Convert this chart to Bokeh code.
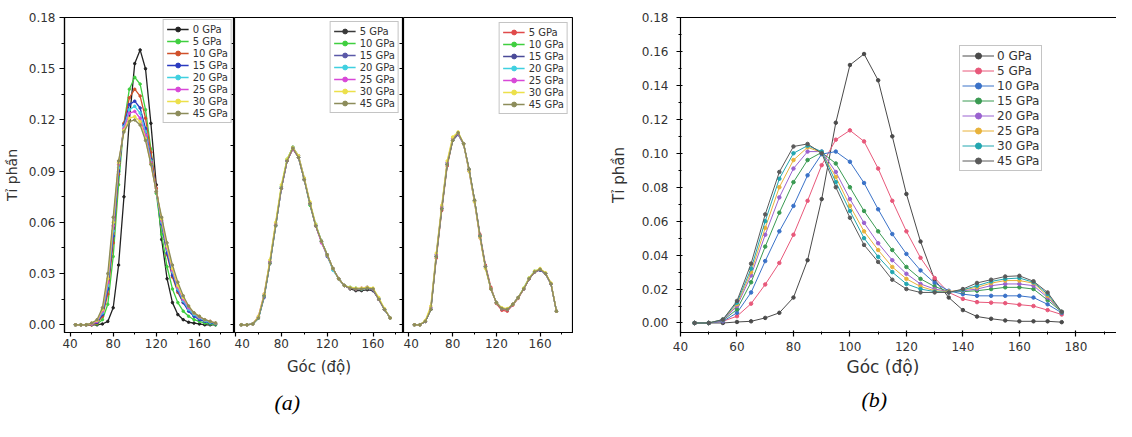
from bokeh.plotting import figure
from bokeh.models import (Range1d, LinearAxis, FixedTicker, NumeralTickFormatter,
                          Legend, LegendItem, Title)
from bokeh.layouts import row
from bokeh.embed import file_html
from bokeh.resources import INLINE

# ---------------- data ----------------
angles = [45, 50, 55, 60, 65, 70, 75, 80, 85, 90, 95, 100, 105, 110, 115, 120,
          125, 130, 135, 140, 145, 150, 155, 160, 165, 170, 175]

# panel (a), left sub-plot
a1_labels = ["0 GPa", "5 GPa", "10 GPa", "15 GPa", "20 GPa", "25 GPa", "30 GPa", "45 GPa"]
a1_0 = [0, 0, 0, 0, 0, 0.0005, 0.002, 0.010, 0.035, 0.075, 0.120, 0.153, 0.161, 0.150, 0.118, 0.082,
        0.050, 0.027, 0.013, 0.006, 0.003, 0.0015, 0.001, 0.0005, 0, 0, 0]
a1_5 = [0, 0, 0, 0, 0.0005, 0.003, 0.012, 0.040, 0.082, 0.118, 0.138, 0.145, 0.141, 0.126, 0.103, 0.077,
        0.053, 0.034, 0.021, 0.013, 0.008, 0.005, 0.003, 0.002, 0.001, 0.0005, 0]
a1_10 = [0, 0, 0, 0, 0.001, 0.005, 0.018, 0.048, 0.088, 0.118, 0.133, 0.138, 0.134, 0.121, 0.101, 0.080,
         0.059, 0.041, 0.028, 0.019, 0.013, 0.009, 0.006, 0.004, 0.0025, 0.0015, 0.001]
a1_15 = [0, 0, 0, 0.0005, 0.0015, 0.006, 0.021, 0.052, 0.090, 0.117, 0.129, 0.131, 0.127, 0.115, 0.097, 0.078,
         0.059, 0.042, 0.029, 0.020, 0.013, 0.008, 0.005, 0.003, 0.002, 0.001, 0.0005]
a1_20 = [0, 0, 0, 0.0005, 0.002, 0.007, 0.023, 0.055, 0.092, 0.116, 0.126, 0.128, 0.124, 0.113, 0.096, 0.078,
         0.060, 0.044, 0.031, 0.021, 0.014, 0.009, 0.006, 0.004, 0.0025, 0.0015, 0.001]
a1_25 = [0, 0, 0, 0.0005, 0.002, 0.008, 0.025, 0.058, 0.094, 0.115, 0.124, 0.125, 0.121, 0.111, 0.095, 0.078,
         0.061, 0.045, 0.032, 0.022, 0.015, 0.010, 0.007, 0.0045, 0.003, 0.002, 0.001]
a1_30 = [0, 0, 0, 0.001, 0.0025, 0.009, 0.027, 0.060, 0.095, 0.114, 0.121, 0.122, 0.119, 0.109, 0.094, 0.078,
         0.062, 0.046, 0.033, 0.023, 0.016, 0.011, 0.007, 0.005, 0.003, 0.002, 0.001]
a1_45 = [0, 0, 0, 0.001, 0.003, 0.010, 0.030, 0.063, 0.096, 0.113, 0.119, 0.120, 0.117, 0.108, 0.094, 0.078,
         0.063, 0.048, 0.035, 0.025, 0.017, 0.011, 0.007, 0.005, 0.003, 0.002, 0.001]

# panel (a), middle sub-plot
a2_labels = ["5 GPa", "10 GPa", "15 GPa", "20 GPa", "25 GPa", "30 GPa", "45 GPa"]
a2_5 = [0, 0, 0.0005, 0.004, 0.017, 0.036, 0.058, 0.080, 0.096, 0.103, 0.098, 0.085, 0.071, 0.058, 0.049, 0.041,
        0.033, 0.027, 0.023, 0.021, 0.020, 0.020, 0.0205, 0.020, 0.015, 0.009, 0.004]
a2_10 = [0, 0, 0.0005, 0.004, 0.017, 0.037, 0.059, 0.081, 0.097, 0.104, 0.098, 0.085, 0.070, 0.058, 0.049, 0.041,
         0.033, 0.027, 0.023, 0.0215, 0.021, 0.021, 0.0215, 0.021, 0.015, 0.009, 0.004]
a2_15 = [0, 0, 0.0005, 0.004, 0.016, 0.036, 0.058, 0.080, 0.096, 0.104, 0.099, 0.086, 0.071, 0.058, 0.049, 0.040,
         0.033, 0.027, 0.023, 0.0215, 0.021, 0.021, 0.0215, 0.0205, 0.015, 0.009, 0.004]
a2_20 = [0, 0, 0.0005, 0.004, 0.017, 0.036, 0.058, 0.080, 0.096, 0.104, 0.098, 0.085, 0.071, 0.059, 0.049, 0.041,
         0.032, 0.027, 0.023, 0.022, 0.0215, 0.021, 0.022, 0.021, 0.0155, 0.009, 0.004]
a2_25 = [0, 0, 0.0005, 0.005, 0.018, 0.037, 0.059, 0.080, 0.096, 0.103, 0.098, 0.085, 0.071, 0.058, 0.048, 0.041,
         0.033, 0.027, 0.023, 0.0215, 0.021, 0.0215, 0.022, 0.021, 0.015, 0.009, 0.004]
a2_30 = [0, 0, 0.0005, 0.005, 0.018, 0.038, 0.060, 0.082, 0.097, 0.104, 0.099, 0.086, 0.072, 0.059, 0.049, 0.041,
         0.033, 0.027, 0.023, 0.022, 0.0215, 0.0215, 0.022, 0.0215, 0.016, 0.0095, 0.004]
a2_45 = [0, 0, 0.0005, 0.004, 0.017, 0.036, 0.058, 0.080, 0.096, 0.1035, 0.098, 0.085, 0.071, 0.058, 0.049, 0.041,
         0.033, 0.027, 0.023, 0.0215, 0.021, 0.021, 0.0215, 0.021, 0.015, 0.009, 0.004]

# panel (a), right sub-plot
a3_labels = ["5 GPa", "10 GPa", "15 GPa", "20 GPa", "25 GPa", "30 GPa", "45 GPa"]
a3_5 = [0, 0, 0.002, 0.009, 0.039, 0.067, 0.093, 0.108, 0.112, 0.106, 0.091, 0.073, 0.053, 0.035, 0.022, 0.0125,
        0.0085, 0.008, 0.0115, 0.0155, 0.021, 0.027, 0.031, 0.0325, 0.030, 0.024, 0.008]
a3_10 = [0, 0, 0.002, 0.009, 0.040, 0.068, 0.094, 0.108, 0.112, 0.106, 0.091, 0.073, 0.052, 0.034, 0.021, 0.013,
         0.0095, 0.009, 0.012, 0.016, 0.021, 0.027, 0.031, 0.0325, 0.030, 0.024, 0.008]
a3_15 = [0, 0, 0.002, 0.009, 0.040, 0.068, 0.094, 0.108, 0.1115, 0.106, 0.091, 0.073, 0.052, 0.034, 0.021, 0.013,
         0.0095, 0.009, 0.012, 0.016, 0.021, 0.027, 0.031, 0.032, 0.030, 0.024, 0.008]
a3_20 = [0, 0, 0.002, 0.010, 0.041, 0.069, 0.095, 0.109, 0.112, 0.106, 0.090, 0.072, 0.052, 0.034, 0.021, 0.013,
         0.0095, 0.009, 0.012, 0.016, 0.0215, 0.0275, 0.0315, 0.0325, 0.030, 0.024, 0.008]
a3_25 = [0, 0, 0.002, 0.010, 0.041, 0.069, 0.095, 0.109, 0.112, 0.106, 0.090, 0.072, 0.051, 0.034, 0.021, 0.013,
         0.0095, 0.009, 0.012, 0.016, 0.021, 0.027, 0.031, 0.0325, 0.030, 0.024, 0.008]
a3_30 = [0, 0, 0.0025, 0.011, 0.042, 0.070, 0.096, 0.110, 0.113, 0.106, 0.090, 0.072, 0.051, 0.033, 0.021, 0.013,
         0.010, 0.0095, 0.012, 0.016, 0.0215, 0.0275, 0.0315, 0.033, 0.0305, 0.0245, 0.008]
a3_45 = [0, 0, 0.002, 0.009, 0.040, 0.068, 0.094, 0.108, 0.1125, 0.106, 0.091, 0.073, 0.052, 0.034, 0.021, 0.013,
         0.0095, 0.009, 0.012, 0.016, 0.021, 0.027, 0.031, 0.0325, 0.030, 0.024, 0.008]

# panel (b)
b_labels = ["0 GPa", "5 GPa", "10 GPa", "15 GPa", "20 GPa", "25 GPa", "30 GPa", "45 GPa"]
b_0 = [0, 0, 0, 0.0006, 0.001, 0.003, 0.006, 0.015, 0.037, 0.073, 0.118, 0.152, 0.1585, 0.143, 0.110, 0.076,
       0.048, 0.0255, 0.015, 0.0076, 0.0038, 0.0025, 0.0015, 0.001, 0.001, 0.001, 0.0005]
b_5 = [0, 0, 0.001, 0.004, 0.0114, 0.0227, 0.0354, 0.052, 0.072, 0.093, 0.108, 0.1135, 0.107, 0.091, 0.072, 0.054,
       0.0384, 0.0265, 0.018, 0.0142, 0.0123, 0.012, 0.0117, 0.0108, 0.010, 0.0076, 0.005]
b_10 = [0, 0, 0.001, 0.006, 0.018, 0.0365, 0.054, 0.069, 0.087, 0.0995, 0.101, 0.095, 0.0825, 0.067, 0.0524, 0.0407,
        0.031, 0.0236, 0.019, 0.017, 0.016, 0.016, 0.016, 0.016, 0.015, 0.011, 0.006]
b_15 = [0, 0, 0.0015, 0.008, 0.024, 0.045, 0.065, 0.083, 0.096, 0.1005, 0.094, 0.080, 0.066, 0.054, 0.043, 0.033,
        0.026, 0.0215, 0.0185, 0.0185, 0.019, 0.020, 0.021, 0.021, 0.020, 0.0135, 0.0065]
b_20 = [0, 0, 0.0015, 0.010, 0.028, 0.052, 0.074, 0.091, 0.101, 0.101, 0.089, 0.073, 0.059, 0.047, 0.037, 0.029,
        0.023, 0.020, 0.0185, 0.019, 0.020, 0.022, 0.023, 0.023, 0.022, 0.015, 0.0065]
b_25 = [0, 0, 0.002, 0.011, 0.030, 0.056, 0.080, 0.096, 0.1035, 0.1005, 0.086, 0.069, 0.054, 0.043, 0.033, 0.026,
        0.0215, 0.019, 0.0185, 0.0195, 0.021, 0.0235, 0.025, 0.025, 0.0235, 0.016, 0.0065]
b_30 = [0, 0, 0.002, 0.012, 0.032, 0.060, 0.085, 0.100, 0.1045, 0.101, 0.083, 0.066, 0.050, 0.039, 0.030, 0.023,
        0.020, 0.0185, 0.018, 0.0195, 0.022, 0.0245, 0.026, 0.0265, 0.024, 0.017, 0.0065]
b_45 = [0, 0, 0.002, 0.013, 0.035, 0.064, 0.089, 0.104, 0.1055, 0.100, 0.080, 0.062, 0.046, 0.036, 0.0255, 0.020,
        0.018, 0.018, 0.018, 0.020, 0.0236, 0.0255, 0.0274, 0.0278, 0.0246, 0.018, 0.0066]

# ticks
ya_ticks = [0.0, 0.03, 0.06, 0.09, 0.12, 0.15, 0.18]
ya_minor = [0.015, 0.045, 0.075, 0.105, 0.135, 0.165]
xa_ticks = [40, 80, 120, 160]
xa_minor = [60, 100, 140, 180]
yb_ticks = [0.0, 0.02, 0.04, 0.06, 0.08, 0.10, 0.12, 0.14, 0.16, 0.18]
yb_minor = [0.01, 0.03, 0.05, 0.07, 0.09, 0.11, 0.13, 0.15, 0.17]
xb_ticks = [40, 60, 80, 100, 120, 140, 160, 180]
xb_minor = [50, 70, 90, 110, 130, 150, 170, 190]

x_title = "Góc (độ)"
y_title = "Tỉ phần"

# ---------------- styling ----------------
FONT = "DejaVu Sans"
TXT = "#333333"
H = 421

a1_colors = ["#222222", "#3fcf3f", "#d0502a", "#2a3ac0", "#3fd0e0", "#d848d8", "#ece04a", "#8c8c5a"]
a2_colors = ["#3a3a3a", "#3fcf3f", "#5a58a8", "#3fd0e0", "#d848d8", "#ece04a", "#8c8c5a"]
a3_colors = ["#e04a4a", "#3fcf3f", "#4a4a98", "#3fd0e0", "#d848d8", "#ece04a", "#8c8c5a"]
b_colors = ["#4a4a4a", "#e8587a", "#3a72c8", "#3a9a52", "#9a62d0", "#e8b23a", "#22a6b0", "#5a5a5a"]


def make_fig(width, xr, yr, bl, br, bt, bb, y_left):
    p = figure(width=width, height=H, x_range=Range1d(*xr), y_range=Range1d(*yr),
               output_backend="svg", toolbar_location=None,
               min_border_left=bl, min_border_right=br, min_border_top=bt, min_border_bottom=bb,
               y_axis_location=("left" if y_left else None))
    p.xgrid.visible = False
    p.ygrid.visible = False
    p.outline_line_color = "black"
    p.outline_line_width = 1.2
    p.border_fill_color = "white"
    p.background_fill_color = "white"
    return p


def style_axis(ax, ticks, minor, fs, standoff, tout=4, tin=0, fmt=None):
    ax.ticker = FixedTicker(ticks=ticks, minor_ticks=minor)
    ax.axis_line_width = 1.2
    ax.axis_line_color = "black"
    ax.major_tick_out = tout
    ax.major_tick_in = tin
    ax.minor_tick_out = max(tout - 2, 0)
    ax.minor_tick_in = max(tin - 1, 0)
    ax.major_tick_line_width = 1.2
    ax.minor_tick_line_width = 1.0
    ax.major_label_text_font = FONT
    ax.major_label_text_font_size = fs
    ax.major_label_text_color = TXT
    ax.major_label_standoff = standoff
    if fmt:
        ax.formatter = NumeralTickFormatter(format=fmt)


def inner_axis(p, positions, side):
    # tick marks only (no labels): all positions drawn as minor ticks pointing inward
    ax = LinearAxis(ticker=FixedTicker(ticks=[], minor_ticks=positions),
                    major_tick_in=0, major_tick_out=0, minor_tick_in=4, minor_tick_out=0,
                    minor_tick_line_width=1.0, major_label_standoff=0,
                    axis_line_width=1.2, axis_line_color="black")
    p.add_layout(ax, side)


def add_series(p, ys, color, lw, ms, alpha=1.0):
    r1 = p.line(angles, ys, line_color=color, line_width=lw, line_alpha=alpha)
    r2 = p.scatter(angles, ys, marker="circle", size=ms, fill_color=color,
                   line_color=color, fill_alpha=alpha, line_alpha=alpha)
    return [r1, r2]


def add_legend(p, labels, rlist, fs, lh, gw, loc, margin, padding=2, standoff=3):
    items = [LegendItem(label=lab, renderers=rs) for lab, rs in zip(labels, rlist)]
    leg = Legend(items=items, location=loc, margin=margin, padding=padding, spacing=0,
                 label_height=lh, glyph_height=lh, glyph_width=gw, label_standoff=standoff,
                 label_text_font=FONT, label_text_font_size=fs, label_text_color=TXT,
                 border_line_color="#8a8a8a", border_line_width=1,
                 background_fill_color="white", background_fill_alpha=1.0)
    p.add_layout(leg)


def add_title(p, text, font, size, style, color, align, offset, standoff):
    t = Title(text=text, align=align, offset=offset, standoff=standoff,
              text_font=font, text_font_size=size, text_font_style=style, text_color=color)
    p.add_layout(t, "below")


A_YR = (-0.0045, 0.18)
A_BT, A_BB = 7, 89
all_a_ticks = sorted(ya_ticks + ya_minor)

# --- sub-plot 1 ---
pa1 = make_fig(234, (34.8, 192.6), A_YR, 60, 0, A_BT, A_BB, True)
style_axis(pa1.xaxis[0], xa_ticks, xa_minor, "12px", 2)
style_axis(pa1.yaxis[0], ya_ticks, ya_minor, "12px", 4, tout=5, fmt="0.00")
pa1.yaxis[0].axis_label = y_title
pa1.yaxis[0].axis_label_text_font = FONT
pa1.yaxis[0].axis_label_text_font_size = "14px"
pa1.yaxis[0].axis_label_text_font_style = "normal"
pa1.yaxis[0].axis_label_text_color = TXT
pa1.yaxis[0].axis_label_standoff = 6
inner_axis(pa1, all_a_ticks, "right")
r = []
for ys, c in zip([a1_0, a1_5, a1_10, a1_15, a1_20, a1_25, a1_30, a1_45], a1_colors):
    r.append(add_series(pa1, ys, c, 1.3, 2.5))
add_legend(pa1, a1_labels, r, "10px", 12, 22, "top_right", 2, padding=3, standoff=4)

# --- sub-plot 2 ---
pa2 = make_fig(169, (39.1, 186.6), A_YR, 0, 0, A_BT, A_BB, False)
style_axis(pa2.xaxis[0], xa_ticks, xa_minor, "12px", 2)
inner_axis(pa2, all_a_ticks, "right")
r = []
for ys, c in zip([a2_5, a2_10, a2_15, a2_20, a2_25, a2_30, a2_45], a2_colors):
    r.append(add_series(pa2, ys, c, 1.3, 2.5))
add_legend(pa2, a2_labels, r, "10px", 12, 22, "top_right", 4, padding=3, standoff=4)
add_title(pa2, x_title, FONT, "15px", "normal", TXT, "center", 0, 10)
add_title(pa2, "(a)", "Liberation Serif", "22px", "italic", "black", "left", 40, 14)

# --- sub-plot 3 ---
pa3 = make_fig(170, (35.0, 190.6), A_YR, 0, 0, A_BT, A_BB, False)
style_axis(pa3.xaxis[0], xa_ticks, xa_minor, "12px", 2)
r = []
for ys, c in zip([a3_5, a3_10, a3_15, a3_20, a3_25, a3_30, a3_45], a3_colors):
    r.append(add_series(pa3, ys, c, 1.3, 2.5))
add_legend(pa3, a3_labels, r, "10px", 12, 22, "top_right", 5, padding=3, standoff=4)

# --- panel (b) ---
pb = make_fig(543, (40.0, 194.4), (-0.0056, 0.18), 107, 0, 17, 78, True)
pb.outline_line_color = None
style_axis(pb.xaxis[0], xb_ticks, xb_minor, "12px", 5, tout=4, tin=2)
style_axis(pb.yaxis[0], yb_ticks, yb_minor, "12px", 8, tout=4, tin=2, fmt="0.00")
pb.yaxis[0].axis_label = y_title
pb.yaxis[0].axis_label_text_font = FONT
pb.yaxis[0].axis_label_text_font_size = "15px"
pb.yaxis[0].axis_label_text_font_style = "normal"
pb.yaxis[0].axis_label_text_color = TXT
pb.yaxis[0].axis_label_standoff = 11
top = LinearAxis(ticker=FixedTicker(ticks=[]), major_tick_in=0, major_tick_out=0,
                 minor_tick_in=0, minor_tick_out=0, major_label_standoff=0,
                 axis_line_width=1.2, axis_line_color="black")
pb.add_layout(top, "above")
r = []
for ys, c in zip([b_0, b_5, b_10, b_15, b_20, b_25, b_30, b_45], b_colors):
    r.append(add_series(pb, ys, c, 1.0, 3.5))
add_legend(pb, b_labels, r, "12px", 15, 32, (279, 161), 0)
add_title(pb, x_title, FONT, "17px", "normal", TXT, "left", 166, 3)
add_title(pb, "(b)", "Liberation Serif", "22px", "italic", "black", "left", 181, 13)

layout = row(pa1, pa2, pa3, pb, spacing=0)
open("out.html", "w").write(file_html(layout, INLINE))
